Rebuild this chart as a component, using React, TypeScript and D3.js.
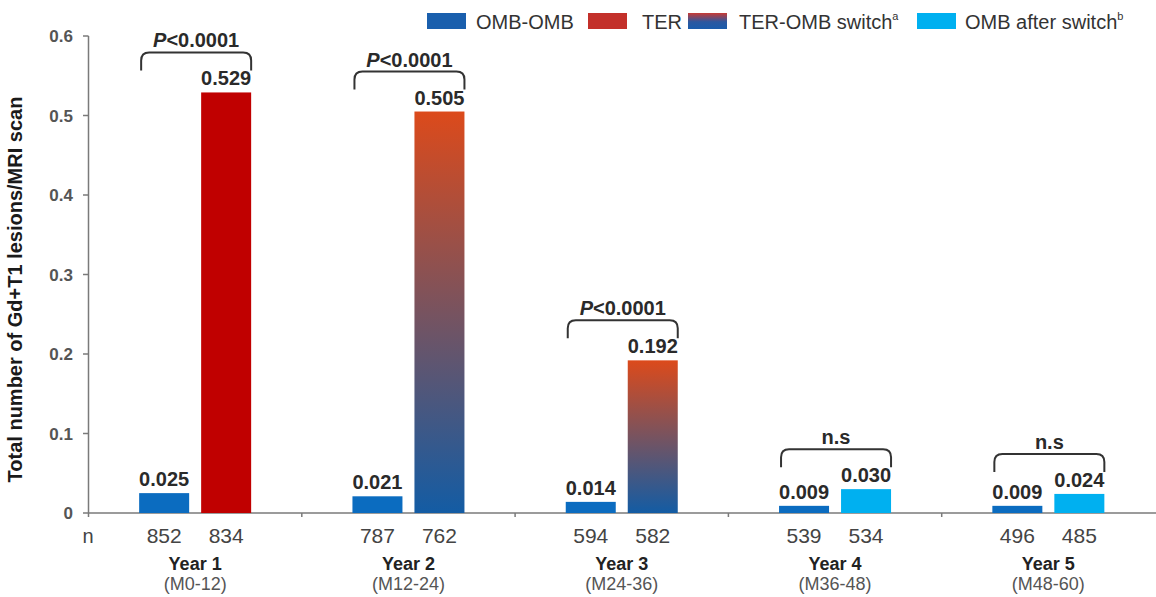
import React from "react";
import * as d3 from "d3";

// Study years and their month windows
const years = ["Year 1", "Year 2", "Year 3", "Year 4", "Year 5"];
const periods = ["(M0-12)", "(M12-24)", "(M24-36)", "(M36-48)", "(M48-60)"];

// Mean number of Gd+ T1 lesions per MRI scan
const ombOmbValues = [0.025, 0.021, 0.014, 0.009, 0.009];
const terArmValues = [0.529, 0.505, 0.192, 0.03, 0.024];

// Which treatment the TER arm was on in each year
const terArmKinds = ["TER", "switch", "switch", "after", "after"];

// Number of scans per arm
const ombOmbN = [852, 787, 594, 539, 496];
const terArmN = [834, 762, 582, 534, 485];

// Between-arm comparison per year
const comparisons = ["P<0.0001", "P<0.0001", "P<0.0001", "n.s", "n.s"];

const yTicks = [0, 0.1, 0.2, 0.3, 0.4, 0.5, 0.6];

const W = 1156;
const H = 597;
const FONT = "'Liberation Sans', Arial, Helvetica, sans-serif";

const COLORS = {
  omb: "#0b6cc0",
  ter: "#c00000",
  after: "#00b0f0",
  legendOmb: "#1a5fad",
  legendTer: "#c3302a",
};

export default function App() {
  const x = d3.scaleBand<string>().domain(years).range([88.5, 1155]).padding(0);
  const inner = d3
    .scaleBand<string>()
    .domain(["omb", "ter"])
    .range([-56, 56])
    .paddingInner(0.1935)
    .paddingOuter(0);
  const y = d3.scaleLinear().domain([0, 0.6]).range([513, 36]);

  const axisColor = "#7a7a7a";
  const textColor = "#2a2a2a";

  const fillFor = (kind: string) =>
    kind === "TER" ? COLORS.ter : kind === "switch" ? "url(#switchGrad)" : COLORS.after;

  const legend = [
    { label: "OMB-OMB", sup: "", fill: COLORS.legendOmb, sx: 427, tx: 476 },
    { label: "TER", sup: "", fill: COLORS.legendTer, sx: 588, tx: 642 },
    { label: "TER-OMB switch", sup: "a", fill: "url(#legendSwitchGrad)", sx: 688, tx: 739 },
    { label: "OMB after switch", sup: "b", fill: COLORS.after, sx: 917, tx: 965 },
  ];

  return (
    <svg
      width={W}
      height={H}
      viewBox={`0 0 ${W} ${H}`}
      style={{ position: "fixed", left: 0, top: 0, background: "#fff", fontFamily: FONT }}
    >
      <defs>
        <linearGradient id="switchGrad" x1="0" y1="0" x2="0" y2="1">
          <stop offset="0" stopColor="#dc4a1b" />
          <stop offset="1" stopColor="#135ca4" />
        </linearGradient>
        <linearGradient id="legendSwitchGrad" x1="0" y1="0" x2="0" y2="1">
          <stop offset="0" stopColor="#c83a35" />
          <stop offset="0.55" stopColor="#2b58a0" />
          <stop offset="1" stopColor="#1a5cab" />
        </linearGradient>
      </defs>

      {/* Legend */}
      {legend.map((d) => (
        <g key={d.label}>
          <rect x={d.sx} y={13} width={39} height={16} fill={d.fill} />
          <text x={d.tx} y={29} fontSize={20} fill="#333">
            {d.label}
            {d.sup && (
              <tspan fontSize={11} dy={-9}>
                {d.sup}
              </tspan>
            )}
          </text>
        </g>
      ))}

      {/* Y axis */}
      <line x1={88.5} x2={88.5} y1={y(0.6)} y2={y(0)} stroke={axisColor} strokeWidth={1.5} />
      {yTicks.map((t) => (
        <g key={t}>
          <line x1={83} x2={88.5} y1={y(t)} y2={y(t)} stroke={axisColor} strokeWidth={1.5} />
          <text
            x={73}
            y={y(t)}
            dy="0.36em"
            textAnchor="end"
            fontSize={17}
            fontWeight="bold"
            fill="#555"
          >
            {t === 0 ? "0" : d3.format(".1f")(t)}
          </text>
        </g>
      ))}
      <text
        transform={`translate(22, ${(y(0) + y(0.6)) / 2 + 15}) rotate(-90)`}
        textAnchor="middle"
        fontSize={20}
        fontWeight="bold"
        fill="#1a1a1a"
      >
        Total number of Gd+T1 lesions/MRI scan
      </text>

      {/* X axis */}
      <line x1={88.5} x2={W} y1={y(0)} y2={y(0)} stroke={axisColor} strokeWidth={1.5} />
      {years.map((yr) => (
        <line
          key={yr}
          x1={x(yr)!}
          x2={x(yr)!}
          y1={y(0)}
          y2={y(0) + 4}
          stroke={axisColor}
          strokeWidth={1.5}
        />
      ))}
      <text x={88} y={543} textAnchor="middle" fontSize={20} fill="#444">
        n
      </text>

      {years.map((yr, i) => {
        const cx = x(yr)! + x.bandwidth() / 2;
        const ombX = cx + inner("omb")!;
        const terX = cx + inner("ter")!;
        const bw = inner.bandwidth();
        const ombTop = y(ombOmbValues[i]);
        const terTop = y(terArmValues[i]);
        const top = Math.min(ombTop, terTop);
        const bEnd = top - 22;
        const bTop = top - 40;
        const bx1 = ombX + 2;
        const bx2 = terX + bw;
        const r = 8;
        const bracket = `M${bx1},${bEnd} L${bx1},${bTop + r} Q${bx1},${bTop} ${bx1 + r},${bTop} L${bx2 - r},${bTop} Q${bx2},${bTop} ${bx2},${bTop + r} L${bx2},${bEnd}`;
        const cmp = comparisons[i];
        return (
          <g key={yr}>
            <rect x={ombX} y={ombTop} width={bw} height={y(0) - ombTop} fill={COLORS.omb} />
            <rect
              x={terX}
              y={terTop}
              width={bw}
              height={y(0) - terTop}
              fill={fillFor(terArmKinds[i])}
            />
            <text
              x={ombX + bw / 2}
              y={ombTop - 7}
              textAnchor="middle"
              fontSize={20}
              fontWeight="bold"
              fill={textColor}
            >
              {d3.format(".3f")(ombOmbValues[i])}
            </text>
            <text
              x={terX + bw / 2}
              y={terTop - 7}
              textAnchor="middle"
              fontSize={20}
              fontWeight="bold"
              fill={textColor}
            >
              {d3.format(".3f")(terArmValues[i])}
            </text>

            {/* Significance bracket */}
            <path d={bracket} fill="none" stroke="#333" strokeWidth={2} />
            <text
              x={(bx1 + bx2) / 2}
              y={bTop - 5}
              textAnchor="middle"
              fontSize={20}
              fontWeight="bold"
              fill={textColor}
            >
              {cmp.startsWith("P") ? (
                <>
                  <tspan fontStyle="italic">P</tspan>
                  {cmp.slice(1)}
                </>
              ) : (
                cmp
              )}
            </text>

            {/* n per arm */}
            <text x={ombX + bw / 2} y={543} textAnchor="middle" fontSize={21} fill="#444">
              {ombOmbN[i]}
            </text>
            <text x={terX + bw / 2} y={543} textAnchor="middle" fontSize={21} fill="#444">
              {terArmN[i]}
            </text>

            {/* Year labels */}
            <text x={cx} y={570} textAnchor="middle" fontSize={18} fontWeight="bold" fill="#222">
              {yr}
            </text>
            <text x={cx} y={590} textAnchor="middle" fontSize={18} fill="#555">
              {periods[i]}
            </text>
          </g>
        );
      })}
    </svg>
  );
}
